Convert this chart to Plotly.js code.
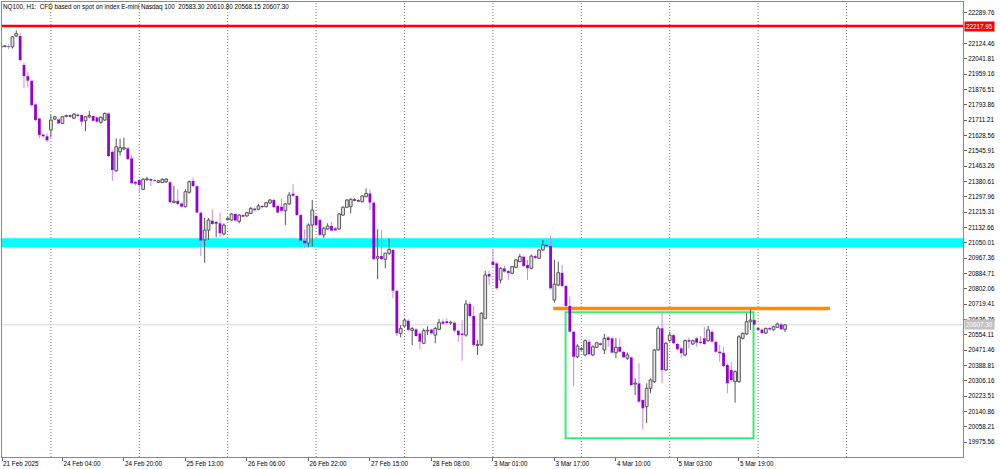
<!DOCTYPE html>
<html><head><meta charset="utf-8">
<script src="https://cdn.plot.ly/plotly-3.0.1.min.js"></script>
<style>html,body{margin:0;padding:0;background:#fff;}#chart{width:1000px;height:469px;}</style>
</head><body><div id="chart"></div>
<script>
// NQ100 H1 bars, 21 Feb 2025 11:00 .. 6 Mar 2025 08:00 (bar index 0..204)
const open = [
22104,22107,22109,22106,22164,22164,22008,21948,21923,21796,21720,21633,21624,
21657,21716,21715,21693,21731,21738,21721,21741,21738,21707,
21728,21733,21726,21699,21711,21747,21540,21438,21540,21556,
21559,21505,21378,21388,21338,21390,21393,21387,21375,21374,
21378,21376,21268,21276,21262,21244,21322,21383,21355,21212,
21065,21118,21169,21155,21155,21097,21174,21172,21205,21165,
21199,21194,21208,21234,21230,21248,21244,21264,21280,21248,
21244,21222,21259,21315,21302,21199,21061,21047,21145,21194,
21172,21092,21124,21140,21128,21124,21199,21241,21244,21278,
21280,21271,21298,21316,21266,20966,20978,20961,20993,21011,
20791,20561,20601,20630,20577,20583,20561,20508,20574,20582,
20552,20583,20625,20627,20617,20619,20576,20561,20552,20720,
20655,20496,20499,20642,20881,20948,20939,20849,20912,20898,
20885,20917,20948,20975,20930,20912,20978,20966,21011,21038,
21032,20741,20822,20888,20817,20709,20570,20435,20475,20445,
20516,20445,20486,20508,20472,20540,20535,20457,20489,20462,
20427,20432,20288,20292,20202,20166,20265,20301,20472,20589,
20364,20522,20552,20504,20481,20445,20525,20504,20535,20517,
20535,20522,20570,20516,20463,20457,20391,20364,20301,20301,
20535,20558,20624,20633,20590,20582,20563,20590,20581,20594,
20610,20583.30];
const high = [
22115,22115,22119,22164,22194,22179,22020,21972,21925,21801,21724,21639,21639,
21738,21733,21719,21733,21741,21741,21749,21746,21741,21733,
21760,21736,21729,21731,21751,21751,21549,21612,21610,21616,
21565,21522,21383,21393,21398,21405,21398,21391,21388,21397,
21398,21380,21355,21338,21266,21338,21385,21403,21359,21216,
21183,21182,21230,21165,21212,21154,21187,21210,21210,21204,
21203,21216,21242,21239,21259,21252,21270,21286,21286,21252,
21289,21264,21323,21365,21306,21204,21122,21154,21280,21199,
21180,21135,21155,21163,21133,21210,21246,21286,21289,21289,
21285,21306,21343,21338,21273,21122,21118,20996,21074,21015,
20796,20606,20642,20637,20595,20589,20567,20587,20600,20587,
20597,20639,20637,20642,20629,20627,20582,20633,20741,20732,
20709,20526,20676,20899,20899,21011,20945,20918,20925,20902,
20926,20962,20989,20981,20957,20986,20986,21018,21065,21046,
21086,20957,20948,20930,20822,20760,20575,20502,20487,20528,
20528,20497,20516,20513,20558,20546,20540,20535,20535,20468,
20458,20438,20319,20400,20208,20292,20318,20478,20601,20678,
20514,20570,20557,20508,20486,20528,20540,20528,20542,20547,
20597,20601,20577,20522,20499,20489,20398,20409,20362,20552,
20567,20669,20691,20640,20598,20588,20593,20596,20603,20620,
20620,20610.80];
const low = [
22098,22104,22094,22097,22157,22029,21882,21887,21785,21706,21612,21616,21593,
21617,21711,21689,21691,21726,21724,21718,21729,21678,21651,
21721,21703,21696,21691,21707,21512,21384,21431,21520,21548,
21495,21365,21358,21320,21333,21383,21355,21378,21371,21371,
21373,21262,21262,21254,21239,21240,21315,21351,21208,20978,
20942,21065,21145,21079,21082,21090,21170,21169,21164,21154,
21186,21190,21204,21219,21225,21234,21240,21259,21236,21208,
21216,21145,21254,21295,21194,21055,21020,21025,21028,21140,
21087,21075,21120,21110,21112,21119,21194,21237,21208,21273,
21267,21267,21294,21226,20956,20853,20956,20912,20984,20752,
20547,20540,20597,20575,20498,20542,20475,20503,20552,20556,
20508,20578,20607,20609,20607,20567,20516,20414,20543,20648,
20490,20445,20493,20637,20822,20922,20796,20831,20889,20849,
20881,20913,20944,20920,20849,20906,20961,20961,21007,21025,
20797,20727,20816,20811,20704,20565,20278,20428,20468,20438,
20443,20438,20481,20495,20450,20489,20453,20427,20458,20428,
20418,20278,20229,20188,20044,20077,20238,20294,20468,20292,
20358,20516,20503,20468,20430,20438,20481,20498,20489,20503,
20498,20516,20512,20457,20409,20378,20238,20299,20188,20295,
20528,20552,20580,20600,20573,20557,20557,20576,20576,20590,
20578,20568.15];
const close = [
22108,22111,22104,22160,22177,22034,21948,21923,21791,21711,21630,21623,21601,
21711,21729,21693,21729,21734,21728,21743,21733,21702,21729,
21736,21707,21702,21726,21747,21517,21442,21567,21562,21562,
21500,21370,21368,21361,21392,21394,21384,21382,21384,21392,
21393,21268,21274,21259,21244,21325,21379,21355,21212,21061,
21118,21172,21151,21159,21101,21145,21181,21205,21169,21199,
21190,21212,21235,21225,21248,21241,21266,21280,21241,21212,
21222,21259,21307,21303,21199,21061,21047,21145,21226,21145,
21092,21128,21140,21115,21116,21205,21241,21280,21284,21282,
21271,21302,21316,21266,20961,20975,20961,20993,21014,20791,
20561,20588,20633,20580,20587,20547,20516,20576,20578,20561,
20588,20619,20613,20617,20621,20576,20552,20552,20720,20655,
20499,20501,20669,20876,20867,20930,20804,20912,20894,20886,
20921,20957,20975,20924,20912,20978,20968,21011,21038,21030,
20804,20826,20888,20817,20709,20570,20435,20493,20479,20522,
20448,20489,20511,20499,20535,20525,20457,20486,20462,20432,
20445,20283,20293,20193,20157,20265,20310,20472,20589,20364,
20508,20552,20508,20475,20454,20522,20516,20522,20511,20509,
20504,20580,20516,20462,20454,20385,20292,20310,20355,20543,
20561,20624,20633,20608,20580,20563,20588,20582,20597,20612,
20583,20607.30];

// time axis labels (bar index of each label)
const xTickBars   = [0.3, 16, 32, 48, 64, 80, 96, 112, 128, 144, 160, 176, 192];
const xTickLabels = ['21 Feb 2025','24 Feb 04:00','24 Feb 20:00','25 Feb 13:00','26 Feb 06:00',
  '26 Feb 22:00','27 Feb 15:00','28 Feb 08:00','3 Mar 01:00','3 Mar 17:00','4 Mar 10:00',
  '5 Mar 03:00','5 Mar 19:00'];
// first bar of each trading day (vertical separators)
const dayStartBars = [13, 36, 59, 82, 105, 128, 151, 174, 197, 220];

// price scale ticks (as shown on the right scale)
const priceTickStart = 19975.56, priceTickStep = 82.65, priceTickCount = 29;

// drawn price levels
const resistanceLevel = 22217.95;
const supportLevel = 21050.01;
const orangeLevel = 20695;
const lastPrice = close[close.length - 1];
const boxTop = 20675, boxBottom = 19996;

const titleText = 'NQ100, H1:\u00a0\u00a0CFD based on spot on index E-mini Nasdaq 100\u00a0\u00a0' +
  [open, high, low, close].map(a => a[a.length - 1].toFixed(2)).join(' ');

// ticks on the price scale; the one hidden by the red level label is left out
const priceTicks = [];
for (let k = 0; k < priceTickCount; k++) {
  const v = priceTickStart + priceTickStep * k;
  if (Math.abs(v - resistanceLevel) > 30) priceTicks.push(v);
}

const idx = open.map((_, i) => i);
const bull = idx.filter(i => close[i] >= open[i]);
const bear = idx.filter(i => close[i] < open[i]);

function bodyTrace(list, fill, lineColor, lineWidth) {
  return {
    type: 'bar', x: list,
    base: list.map(i => Math.min(open[i], close[i])),
    y: list.map(i => Math.max(Math.abs(close[i] - open[i]), 4)),
    width: 0.72,
    marker: {color: fill, line: {color: lineColor, width: lineWidth}},
    hoverinfo: 'skip'
  };
}
function wickTrace(list, color) {
  const x = [], y = [];
  list.forEach(i => {
    const top = Math.max(open[i], close[i]), bot = Math.min(open[i], close[i]);
    x.push(i, i, null, i, i, null);
    y.push(high[i], top, null, bot, low[i], null);
  });
  return {type: 'scatter', mode: 'lines', x, y, line: {color, width: 1}, hoverinfo: 'skip', connectgaps: false};
}

const traces = [
  bodyTrace(bull, '#E6E6E6', '#555555', 1),
  bodyTrace(bear, '#9400D3', '#9400D3', 0),
  wickTrace(bull, '#555555'),
  wickTrace(bear, '#C88AEE')
];

const shapes = [];
dayStartBars.forEach(b => shapes.push({type: 'line', xref: 'x', yref: 'paper', x0: b, x1: b, y0: 0, y1: 1,
  line: {color: '#777777', width: 1, dash: '1px,2px'}, layer: 'below'}));
shapes.push({type: 'rect', xref: 'paper', yref: 'y', x0: 0, x1: 1, y0: supportLevel - 24, y1: supportLevel + 24,
  fillcolor: '#00FFFF', line: {width: 0}, layer: 'below'});
shapes.push({type: 'line', xref: 'paper', yref: 'y', x0: 0, x1: 1, y0: resistanceLevel, y1: resistanceLevel,
  line: {color: '#FF0000', width: 2.5}, layer: 'below'});
shapes.push({type: 'line', xref: 'paper', yref: 'y', x0: 0, x1: 1, y0: lastPrice, y1: lastPrice,
  line: {color: '#D6D6D6', width: 1}, layer: 'below'});
shapes.push({type: 'line', xref: 'x', yref: 'y', x0: 143.7, x1: 215.7, y0: orangeLevel, y1: orangeLevel,
  line: {color: '#FF8C00', width: 3.5}, layer: 'below'});
shapes.push({type: 'rect', xref: 'x', yref: 'y', x0: 146.9, x1: 195.8, y0: boxBottom, y1: boxTop,
  line: {color: '#3DEB73', width: 2}, fillcolor: 'rgba(0,0,0,0)', layer: 'below'});

const font = {family: 'Liberation Sans, Arial, sans-serif', size: 6.3, color: '#000000'};

const layout = {
  width: 1000, height: 469,
  margin: {l: 2, r: 37, t: 2, b: 12, pad: 0},
  paper_bgcolor: '#ffffff', plot_bgcolor: '#ffffff',
  showlegend: false, barmode: 'overlay', font: font,
  title: {text: titleText, xref: 'container', yref: 'container', x: 0.003, xanchor: 'left',
          y: 0.986, yanchor: 'middle', font: font},
  xaxis: {range: [0.28, 250.3], showgrid: false, zeroline: false, tickmode: 'array',
          tickvals: xTickBars, ticktext: xTickLabels, ticks: 'outside', ticklen: 3, tickcolor: '#666',
          ticklabelposition: 'outside right', showline: true, linecolor: '#888', mirror: true,
          tickfont: font, fixedrange: true},
  yaxis: {side: 'right', range: [19894.9, 22347.4], tickmode: 'array', tickvals: priceTicks,
          tickformat: '.2f', ticks: 'outside', ticklen: 3, tickcolor: '#666', showgrid: false, zeroline: false,
          showline: true, linecolor: '#888', mirror: true, tickfont: font, fixedrange: true},
  shapes: shapes,
  annotations: [
    {xref: 'paper', yref: 'y', x: 1, y: resistanceLevel, xanchor: 'left', xshift: 1, showarrow: false,
     text: resistanceLevel.toFixed(2), bgcolor: '#FF0000', font: {family: font.family, size: 6.3, color: '#ffffff'}, borderpad: 1},
    {xref: 'paper', yref: 'y', x: 1, y: lastPrice, xanchor: 'left', xshift: 1, showarrow: false,
     text: lastPrice.toFixed(2), bgcolor: '#C0C0C0', font: {family: font.family, size: 6.3, color: '#ffffff'}, borderpad: 1}
  ]
};

Plotly.newPlot('chart', traces, layout, {staticPlot: true, displayModeBar: false});
</script></body></html>
